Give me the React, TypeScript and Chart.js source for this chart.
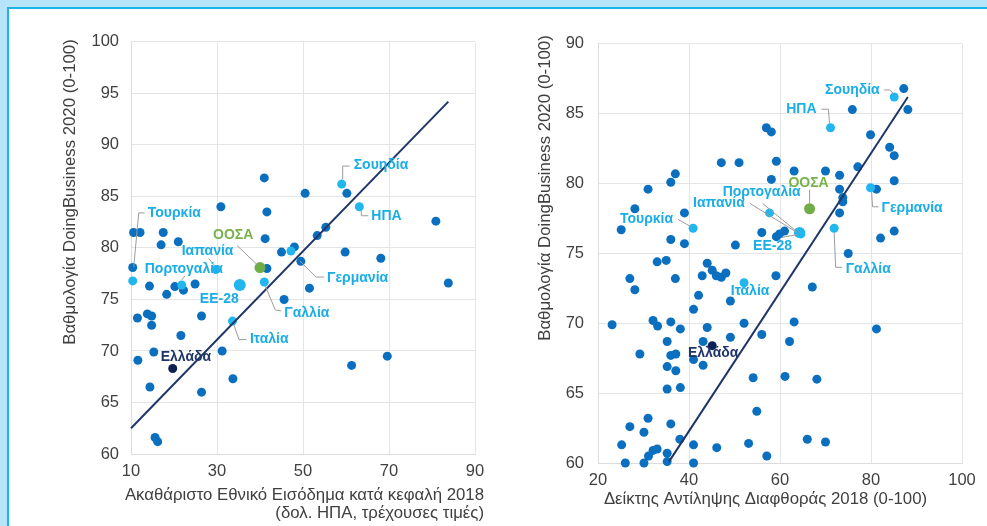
import React, { useEffect, useRef } from "react";
import { Chart, registerables } from "chart.js";

Chart.register(...registerables);

const FONT = "'Liberation Sans', Arial, sans-serif";

// ---------- Left chart: GNI per capita 2018 (thousand USD) vs DoingBusiness 2020 ----------
const gniTicksX = [10, 30, 50, 70, 90];
const gniTicksY = [60, 65, 70, 75, 80, 85, 90, 95, 100];
const gniOtherX = [41.0, 50.5, 60.2, 30.9, 41.6, 80.9, 10.6, 12.1, 17.5, 55.3, 53.3, 41.2, 17.0, 21.0, 45.0, 48.0, 59.8, 68.1, 49.5, 41.6, 10.4, 14.3, 20.2, 22.2, 24.9, 45.6, 51.5, 83.8, 18.3, 11.5, 13.8, 14.8, 14.8, 26.4, 21.6, 15.3, 31.2, 11.6, 69.6, 61.3, 33.7, 14.4, 26.4, 15.6, 16.2];
const gniOtherY = [86.8, 85.3, 85.3, 84.0, 83.5, 82.6, 81.5, 81.5, 81.5, 82.0, 81.2, 80.9, 80.3, 80.6, 79.6, 80.1, 79.6, 79.0, 78.7, 78.0, 78.1, 76.3, 76.25, 75.9, 76.5, 75.0, 76.1, 76.6, 75.5, 73.2, 73.6, 73.4, 72.5, 73.4, 71.5, 69.9, 70.0, 69.1, 69.5, 68.6, 67.3, 66.5, 66.0, 61.6, 61.2];
const gniHiNames = ["Σουηδία", "ΗΠΑ", "Γερμανία", "Ιαπανία", "Πορτογαλία", "ΕΕ-28", "Γαλλία", "Ιταλία", "Τουρκία"];
const gniHiX = [59.0, 63.1, 47.2, 29.7, 21.8, 35.3, 41.0, 33.6, 10.4];
const gniHiY = [86.2, 84.0, 79.7, 77.9, 76.4, 76.4, 76.7, 72.9, 76.8];
const gniOecdX = [40.0];
const gniOecdY = [78.1];
const gniGreeceX = [19.7];
const gniGreeceY = [68.3];
const gniTrendX = [10, 83.8];
const gniTrendY = [62.5, 94.2];

// ---------- Right chart: Corruption Perception Index 2018 vs DoingBusiness 2020 ----------
const cpiTicksX = [20, 40, 60, 80, 100];
const cpiTicksY = [60, 65, 70, 75, 80, 85, 90];
const cpiOtherX = [87.2, 88.1, 75.9, 57.0, 58.1, 79.9, 84.1, 85.1, 77.1, 47.1, 51.0, 59.2, 63.1, 70.0, 73.1, 37.0, 36.0, 58.1, 85.1, 31.0, 73.1, 81.2, 73.8, 73.8, 28.1, 39.0, 73.1, 25.1, 56.0, 59.2, 59.9, 61.0, 85.1, 82.1, 36.0, 39.0, 50.2, 75.0, 33.0, 35.0, 44.0, 45.1, 46.0, 47.1, 48.1, 42.9, 59.1, 27.0, 37.0, 67.1, 28.1, 42.1, 49.1, 41.0, 23.1, 32.1, 33.1, 36.0, 38.1, 44.0, 52.1, 63.1, 81.2, 56.0, 49.1, 35.2, 43.1, 62.1, 29.2, 36.0, 37.1, 41.0, 43.1, 35.2, 37.1, 54.1, 61.1, 68.1, 35.2, 38.1, 54.9, 31.0, 27.0, 36.0, 30.1, 38.0, 66.0, 70.0, 25.2, 41.0, 53.1, 46.1, 32.1, 33.0, 31.1, 35.2, 57.1, 26.0, 30.1, 35.2, 41.0];
const cpiOtherY = [86.8, 85.3, 85.3, 84.0, 83.7, 83.5, 82.6, 82.0, 81.2, 81.5, 81.5, 81.6, 80.9, 80.9, 80.6, 80.7, 80.1, 80.3, 80.2, 79.6, 79.6, 79.6, 79.0, 78.7, 78.2, 77.9, 77.9, 76.7, 76.5, 76.2, 76.4, 76.6, 76.6, 76.1, 76.0, 75.7, 75.6, 75.0, 74.4, 74.5, 74.3, 73.8, 73.4, 73.3, 73.6, 73.4, 73.4, 73.2, 73.2, 72.6, 72.4, 72.0, 71.6, 71.0, 69.9, 70.2, 69.8, 70.1, 69.6, 69.7, 70.0, 70.1, 69.6, 69.2, 69.0, 68.7, 68.7, 68.7, 67.8, 67.7, 67.8, 67.4, 67.0, 66.9, 66.6, 66.1, 66.2, 66.0, 65.3, 65.4, 63.7, 63.2, 62.6, 62.8, 62.2, 61.7, 61.7, 61.5, 61.3, 61.3, 61.4, 61.1, 60.9, 61.0, 60.5, 60.7, 60.5, 60.0, 60.0, 60.1, 60.0];
const cpiHiNames = ["Σουηδία", "ΗΠΑ", "Γερμανία", "", "Τουρκία", "Γαλλία", "Πορτογαλία", "Ιαπανία", "ΕΕ-28", "Ιταλία"];
const cpiHiX = [85.1, 71.1, 79.9, 57.7, 40.9, 71.9, 64.1, 64.6, 64.3, 52.1];
const cpiHiY = [86.2, 84.0, 79.7, 77.9, 76.8, 76.8, 76.5, 76.4, 76.5, 72.9];
const cpiOecdX = [66.5];
const cpiOecdY = [78.2];
const cpiGreeceX = [45.1];
const cpiGreeceY = [68.4];
const cpiTrendX = [35.6, 88.1];
const cpiTrendY = [60.1, 86.2];

const OECD_NAME = "ΟΟΣΑ";
const GREECE_NAME = "Ελλάδα";
const Y_TITLE = "Βαθμολογία DoingBusiness 2020 (0-100)";
const GNI_X_TITLE = ["Ακαθάριστο Εθνικό Εισόδημα κατά κεφαλή 2018", "(δολ. ΗΠΑ, τρέχουσες τιμές)"];
const CPI_X_TITLE = ["Δείκτης Αντίληψης Διαφθοράς 2018 (0-100)"];

// ---------- styles ----------
const C_DARK = "#0b6fbf";
const C_LIGHT = "#21b6ee";
const C_LIGHT_TXT = "#1aade6";
const C_GREEN = "#70ad47";
const C_GREEN_TXT = "#79b14b";
const C_NAVY = "#0c2254";
const C_NAVY_TXT = "#1f3468";
const C_TREND = "#1f3668";
const C_AXIS_TXT = "#404040";

type Lay = { dx: number; dy: number; align: CanvasTextAlign; leader?: number[][] };

const gniLayout: Record<string, Lay> = {
  "Σουηδία": { dx: 12, dy: -18.5, align: "left", leader: [[1, -5], [1, -18], [8, -18]] },
  "ΗΠΑ": { dx: 12, dy: 9, align: "left", leader: [[2, 4], [2, 9], [9, 9]] },
  "Γερμανία": { dx: 36, dy: 27, align: "left", leader: [[9, 10], [25, 26], [33, 26]] },
  "Ιαπανία": { dx: -34, dy: -18, align: "left", leader: [[-7, -11], [-1, -4]] },
  "ΟΟΣΑ": { dx: -47, dy: -32, align: "left", leader: [[-23, -22], [-3, -3]] },
  "Πορτογαλία": { dx: -37, dy: -16, align: "left", leader: [[0, -5], [3, -9]] },
  "ΕΕ-28": { dx: -40, dy: 14, align: "left" },
  "Γαλλία": { dx: 20, dy: 31, align: "left", leader: [[1, 4], [11, 28], [17, 29]] },
  "Ιταλία": { dx: 17.5, dy: 18, align: "left", leader: [[1.5, 4], [6.5, 18.5], [14, 18.5]] },
  "Ελλάδα": { dx: -12, dy: -11, align: "left" },
  "Τουρκία": { dx: 15, dy: -68, align: "left", leader: [[12, -68], [6, -68], [1, -14]] },
};

const cpiLayout: Record<string, Lay> = {
  "Σουηδία": { dx: -14.5, dy: -7, align: "right", leader: [[-10, -7], [-4, -7], [-1, -3]] },
  "ΗΠΑ": { dx: -14, dy: -18.5, align: "right", leader: [[-9, -18.5], [-2, -18.5], [-1, -4]] },
  "Γερμανία": { dx: 11, dy: 20, align: "left", leader: [[1, 3], [2, 19], [8, 19]] },
  "Τουρκία": { dx: -20, dy: -9, align: "right", leader: [[-15, -9], [-3, -2]] },
  "Γαλλία": { dx: 11.5, dy: 41, align: "left", leader: [[0, 4], [1.5, 39], [8, 39]] },
  "Πορτογαλία": { dx: -37, dy: -40, align: "center", leader: [[-36, -29], [-2, -1]] },
  "Ιαπανία": { dx: -82, dy: -30.5, align: "center", leader: [[-51, -30.5], [-4, -1.5]] },
  "ΕΕ-28": { dx: -27, dy: 14, align: "center", leader: [[-18, 5], [-2, 2]] },
  "Ιταλία": { dx: 6, dy: 8.5, align: "center" },
  "ΟΟΣΑ": { dx: -1, dy: -26, align: "center", leader: [[0, -19], [0, -5]] },
  "Ελλάδα": { dx: 1, dy: 7.5, align: "center" },
};

const labelPlugin = {
  id: "pointLabels",
  afterDatasetsDraw(chart: any, _args: any, opts: any) {
    const { ctx, scales } = chart;
    const items = (opts && opts.items) || [];
    ctx.save();
    for (const it of items) {
      const px = scales.x.getPixelForValue(it.x);
      const py = scales.y.getPixelForValue(it.y);
      if (it.leader && it.leader.length) {
        ctx.beginPath();
        ctx.strokeStyle = "#9c9c9c";
        ctx.lineWidth = 1;
        it.leader.forEach((p: number[], k: number) => {
          if (k === 0) ctx.moveTo(px + p[0], py + p[1]);
          else ctx.lineTo(px + p[0], py + p[1]);
        });
        ctx.stroke();
      }
      ctx.font = `bold 14px ${FONT}`;
      ctx.fillStyle = it.color;
      ctx.textAlign = it.align;
      ctx.textBaseline = "middle";
      ctx.fillText(it.name, px + it.dx, py + it.dy);
    }
    ctx.restore();
  },
};

const titlePlugin = {
  id: "axisTitles",
  afterDraw(chart: any, _args: any, opts: any) {
    const { ctx } = chart;
    ctx.save();
    ctx.fillStyle = C_AXIS_TXT;
    ctx.font = `16.8px ${FONT}`;
    ctx.textBaseline = "middle";
    // y title
    ctx.save();
    ctx.translate(opts.yx, opts.yy);
    ctx.rotate(-Math.PI / 2);
    ctx.textAlign = "center";
    ctx.fillText(opts.yText, 0, 0);
    ctx.restore();
    // x title
    ctx.textAlign = opts.xAlign;
    opts.xLines.forEach((line: string, i: number) => {
      ctx.fillText(line, opts.xx, opts.xy + i * opts.xLineH);
    });
    ctx.restore();
  },
};

function pts(xs: number[], ys: number[]) {
  return xs.map((x, i) => ({ x, y: ys[i] }));
}

function buildLabels(
  hiNames: string[], hiX: number[], hiY: number[],
  oX: number[], oY: number[], gX: number[], gY: number[],
  layout: Record<string, Lay>
) {
  const items: any[] = [];
  hiNames.forEach((n, i) => {
    if (!n || !layout[n]) return;
    items.push({ name: n, x: hiX[i], y: hiY[i], color: C_LIGHT_TXT, ...layout[n] });
  });
  items.push({ name: OECD_NAME, x: oX[0], y: oY[0], color: C_GREEN_TXT, ...layout[OECD_NAME] });
  items.push({ name: GREECE_NAME, x: gX[0], y: gY[0], color: C_NAVY_TXT, ...layout[GREECE_NAME] });
  return items;
}

function makeConfig(p: any) {
  const axisCommon = (ticksArr: number[], min: number, max: number, padding: number) => ({
    type: "linear",
    min,
    max,
    afterBuildTicks: (s: any) => {
      s.ticks = ticksArr.map((v) => ({ value: v }));
    },
    grid: { color: "#e5e5e5", drawTicks: false, lineWidth: 1 },
    border: { display: true, color: "#dcdcdc" },
    ticks: { padding, color: C_AXIS_TXT, font: { size: 16.5, family: FONT } },
  });
  return {
    type: "scatter",
    data: {
      datasets: [
        {
          type: "line",
          data: pts(p.trendX, p.trendY),
          borderColor: C_TREND,
          borderWidth: 2,
          pointRadius: 0,
          fill: false,
          order: 0,
          clip: false,
        },
        {
          data: pts(p.greeceX, p.greeceY),
          backgroundColor: C_NAVY,
          borderWidth: 0,
          pointRadius: 4.5,
          order: 1,
          clip: false,
        },
        {
          data: pts(p.oecdX, p.oecdY),
          backgroundColor: C_GREEN,
          borderWidth: 0,
          pointRadius: 5.5,
          order: 2,
          clip: false,
        },
        {
          data: pts(p.hiX, p.hiY),
          backgroundColor: C_LIGHT,
          borderWidth: 0,
          pointRadius: p.hiNames.map((n: string) => (n === "ΕΕ-28" ? p.bigR : 4.5)),
          order: 3,
          clip: false,
        },
        {
          data: pts(p.otherX, p.otherY),
          backgroundColor: C_DARK,
          borderWidth: 0,
          pointRadius: 4.5,
          order: 4,
          clip: false,
        },
      ],
    },
    options: {
      animation: false,
      responsive: false,
      events: [],
      layout: { padding: { left: 0, right: p.padRight, top: p.padTop, bottom: 0 } },
      scales: {
        x: {
          ...axisCommon(p.ticksX, p.ticksX[0], p.ticksX[p.ticksX.length - 1], 8),
          afterFit: (s: any) => {
            s.height = p.xAxisH;
          },
        },
        y: {
          ...axisCommon(p.ticksY, p.ticksY[0], p.ticksY[p.ticksY.length - 1], p.yPad),
          afterFit: (s: any) => {
            s.width = p.yAxisW;
          },
        },
      },
      plugins: {
        legend: { display: false },
        tooltip: { enabled: false },
        title: { display: false },
        pointLabels: { items: p.labels },
        axisTitles: p.titles,
      },
    },
    plugins: [labelPlugin, titlePlugin],
  };
}

export default function App() {
  const leftRef = useRef<HTMLCanvasElement>(null);
  const rightRef = useRef<HTMLCanvasElement>(null);

  useEffect(() => {
    const left = new Chart(
      leftRef.current as HTMLCanvasElement,
      makeConfig({
        trendX: gniTrendX, trendY: gniTrendY,
        greeceX: gniGreeceX, greeceY: gniGreeceY,
        oecdX: gniOecdX, oecdY: gniOecdY,
        hiNames: gniHiNames, hiX: gniHiX, hiY: gniHiY,
        otherX: gniOtherX, otherY: gniOtherY,
        ticksX: gniTicksX, ticksY: gniTicksY,
        bigR: 6,
        padRight: 25, padTop: 17, xAxisH: 72, yAxisW: 91, yPad: 12,
        labels: buildLabels(gniHiNames, gniHiX, gniHiY, gniOecdX, gniOecdY, gniGreeceX, gniGreeceY, gniLayout),
        titles: { yText: Y_TITLE, yx: 30, yy: 172, xLines: GNI_X_TITLE, xAlign: "right", xx: 444, xy: 475, xLineH: 18 },
      }) as any
    );
    const right = new Chart(
      rightRef.current as HTMLCanvasElement,
      makeConfig({
        trendX: cpiTrendX, trendY: cpiTrendY,
        greeceX: cpiGreeceX, greeceY: cpiGreeceY,
        oecdX: cpiOecdX, oecdY: cpiOecdY,
        hiNames: cpiHiNames, hiX: cpiHiX, hiY: cpiHiY,
        otherX: cpiOtherX, otherY: cpiOtherY,
        ticksX: cpiTicksX, ticksY: cpiTicksY,
        bigR: 5.5,
        padRight: 25, padTop: 19, xAxisH: 63, yAxisW: 88, yPad: 14,
        labels: buildLabels(cpiHiNames, cpiHiX, cpiHiY, cpiOecdX, cpiOecdY, cpiGreeceX, cpiGreeceY, cpiLayout),
        titles: { yText: Y_TITLE, yx: 35, yy: 168, xLines: CPI_X_TITLE, xAlign: "center", xx: 255.5, xy: 479, xLineH: 18 },
      }) as any
    );
    return () => {
      left.destroy();
      right.destroy();
    };
  }, []);

  return (
    <div style={{ position: "fixed", left: 0, top: 0, width: 987, height: 526, background: "#b6e4f9", overflow: "hidden" }}>
      <div
        style={{
          position: "absolute",
          left: 7,
          top: 7,
          right: 0,
          bottom: 0,
          background: "#ffffff",
          borderTop: "2px solid #1cb4ea",
          borderLeft: "2px solid #1cb4ea",
        }}
      />
      <canvas
        ref={leftRef}
        width={460}
        height={506}
        style={{ position: "absolute", left: 40, top: 20, width: 460, height: 506 }}
      />
      <canvas
        ref={rightRef}
        width={477}
        height={506}
        style={{ position: "absolute", left: 510, top: 20, width: 477, height: 506 }}
      />
    </div>
  );
}
